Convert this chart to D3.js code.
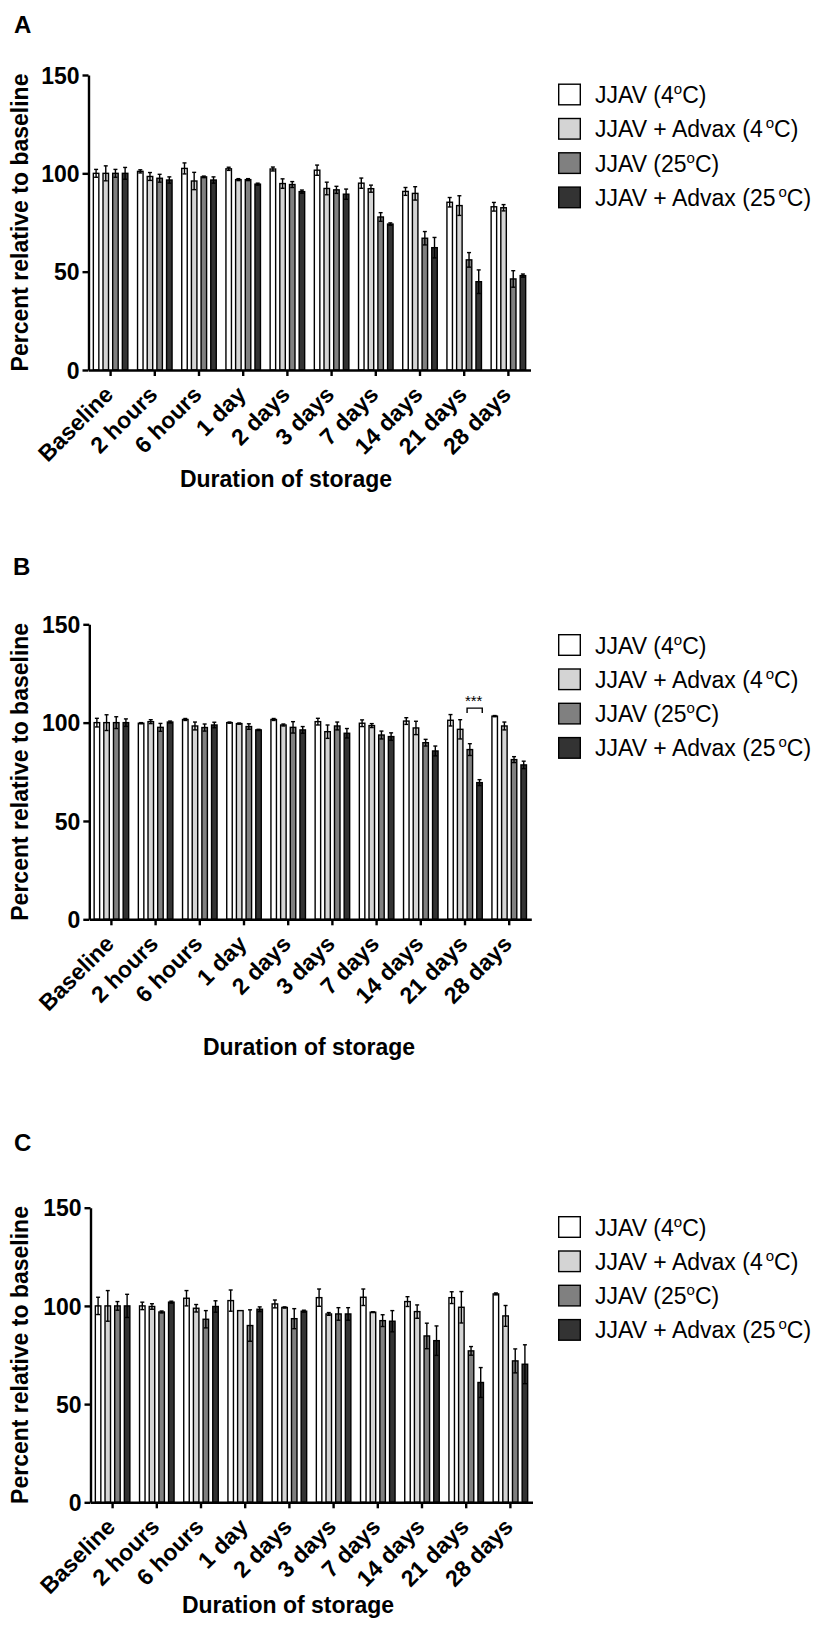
<!DOCTYPE html>
<html>
<head>
<meta charset="utf-8">
<script src="https://cdn.jsdelivr.net/npm/d3@7"></script>
<style>
  html, body { margin: 0; padding: 0; background: #fff; }
  svg { display: block; font-family: "Liberation Sans", Arial, sans-serif; }
</style>
</head>
<body>
<script>
// categories / series
const durations = ["Baseline", "2 hours", "6 hours", "1 day", "2 days", "3 days", "7 days", "14 days", "21 days", "28 days"];
const seriesNames = ["JJAV (4", "JJAV + Advax (4", "JJAV (25", "JJAV + Advax (25"];
const seriesGap = [0, 3, 0, 3]; // small gap before the degree sign, as in the original
const seriesColors = ["#ffffff", "#d4d4d4", "#808080", "#333333"];
const yTicks = [0, 50, 100, 150];

// panel A: means and SEM, one row per series
const meansA = [
  [100, 101, 102.5, 102.3, 102.2, 101.6, 95, 90.8, 85.3, 83],
  [100, 98.4, 96.1, 96.8, 94.8, 92.3, 92.2, 89.8, 83.6, 82.5],
  [100, 97.5, 98.2, 96.8, 94.3, 91.6, 77.8, 67, 56, 46.3],
  [100, 96.6, 96.6, 94.5, 90.7, 89.4, 74.2, 62.2, 44.9, 48]
];
const errA = [
  [2, 0.8, 2.8, 0.8, 1, 2.6, 2.6, 2, 2.4, 2.2],
  [3.8, 2, 4.4, 0.5, 2.4, 3.2, 1.8, 3.4, 5, 1.6],
  [2, 2, 0.4, 0.5, 1.5, 1.8, 2.2, 3.4, 3.7, 4.2],
  [3, 1.6, 1.6, 0.5, 0.8, 2.6, 0.6, 5.2, 6, 0.8]
];

// panel B
const meansB = [
  [100, 99.7, 101.6, 100, 101.6, 100.5, 99.7, 100.8, 101.2, 103.3],
  [100, 100.5, 98.3, 99.5, 98.8, 95.4, 98.5, 97.3, 96.6, 98.3],
  [100, 97.6, 97.5, 98, 97.6, 98.3, 93.7, 89.8, 86.3, 81.2],
  [100, 100.3, 98.8, 96.3, 96.3, 94.6, 92.9, 85.6, 69.5, 78.5]
];
const errB = [
  [2.2, 0.3, 0.5, 0.3, 0.5, 1.7, 1.7, 1.7, 2.9, 0.3],
  [4, 1, 2, 0.3, 0.5, 3.4, 1, 3.4, 4.9, 2],
  [3, 2, 1.8, 1.4, 2.9, 2, 2, 1.7, 3, 1.5],
  [1.9, 0.5, 1.4, 0.3, 1.7, 2.4, 1.9, 2.5, 1.5, 1.9]
];

// panel C
const meansC = [
  [100, 100, 103.9, 102.7, 101, 104.2, 104.4, 102.2, 104.2, 106.1],
  [100, 99.7, 98.8, 97.6, 99.2, 95.9, 96.8, 97.1, 99.3, 94.9],
  [100, 96.9, 93.2, 90, 93.5, 95.9, 92.5, 84.7, 77.1, 72],
  [100, 101.9, 99.7, 98.3, 97.3, 95.9, 92.2, 82.3, 61, 70.3]
];
const errC = [
  [4.4, 1.9, 3.9, 5.4, 2, 4.4, 4.2, 2.5, 3, 0.5],
  [7.8, 1.4, 1.9, 0, 0.3, 0.7, 0.2, 3.4, 8, 5.3],
  [2.2, 0.5, 4.4, 8, 5.1, 3.2, 3, 6.5, 2.2, 6.1],
  [5.9, 0.5, 2.9, 1.2, 0.5, 3.2, 5.4, 7.5, 7.6, 9.9]
];

// significance mark in panel B (21 days, JJAV 25C vs JJAV + Advax 25C)
const sigB = { category: "21 days", from: 2, to: 3, level: 107.4, label: "***" };

const W = 814, H = 1626;
const svg = d3.select("body").append("svg").attr("width", W).attr("height", H);

const panels = [
  { letter: "A", means: meansA, errs: errA, x0: 88.5, yTop: 75, yBottom: 370, letterX: 14, letterY: 33, titleX: 286, titleY: 487, legendY: 94.5 },
  { letter: "B", means: meansB, errs: errB, x0: 89.3, yTop: 624.3, yBottom: 919.3, letterX: 13, letterY: 575, titleX: 309, titleY: 1055, legendY: 645, sig: sigB },
  { letter: "C", means: meansC, errs: errC, x0: 90.5, yTop: 1207.7, yBottom: 1502.3, letterX: 14, letterY: 1151, titleX: 288, titleY: 1613, legendY: 1227 }
];

panels.forEach(p => {
  const g = svg.append("g");

  const x = d3.scaleBand().domain(durations).range([p.x0, p.x0 + 442]).padding(0);
  const xs = d3.scaleBand().domain(d3.range(4)).range([0, x.bandwidth()])
    .paddingInner(0.431).paddingOuter(0.5);
  const y = d3.scaleLinear().domain([0, 150]).range([p.yBottom, p.yTop]);

  // bars
  const bars = [];
  p.means.forEach((row, s) => row.forEach((v, i) => {
    bars.push({ s, cat: durations[i], v, e: p.errs[s][i] });
  }));

  g.selectAll("rect.bar").data(bars).join("rect")
    .attr("class", "bar")
    .attr("x", d => x(d.cat) + xs(d.s))
    .attr("width", xs.bandwidth())
    .attr("y", d => y(d.v))
    .attr("height", d => y(0) - y(d.v))
    .attr("fill", d => seriesColors[d.s])
    .attr("stroke", "#000")
    .attr("stroke-width", 1.4);

  // error bars (SEM, both directions)
  const eb = g.selectAll("g.err").data(bars.filter(d => d.e > 0)).join("g").attr("class", "err")
    .attr("stroke", "#000").attr("stroke-width", 1.4);
  const cx = d => x(d.cat) + xs(d.s) + xs.bandwidth() / 2;
  eb.append("line")
    .attr("x1", cx).attr("x2", cx)
    .attr("y1", d => y(d.v - d.e)).attr("y2", d => y(d.v + d.e));
  eb.append("line")
    .attr("x1", d => cx(d) - 2).attr("x2", d => cx(d) + 2)
    .attr("y1", d => y(d.v + d.e)).attr("y2", d => y(d.v + d.e));
  eb.append("line")
    .attr("x1", d => cx(d) - 2).attr("x2", d => cx(d) + 2)
    .attr("y1", d => y(d.v - d.e)).attr("y2", d => y(d.v - d.e));

  // axes
  const yAxis = g.append("g").attr("transform", `translate(${p.x0},0)`)
    .call(d3.axisLeft(y).tickValues(yTicks).tickSize(6).tickSizeOuter(0).tickPadding(3));
  const xAxis = g.append("g").attr("transform", `translate(0,${p.yBottom})`)
    .call(d3.axisBottom(x).tickSize(6).tickSizeOuter(0));

  [yAxis, xAxis].forEach(a => {
    a.select(".domain").attr("stroke-width", 2.4);
    a.selectAll(".tick line").attr("stroke-width", 2.4);
    a.selectAll("text").attr("font-family", null).attr("font-size", 23).attr("font-weight", "bold").attr("fill", "#000");
  });
  yAxis.selectAll("text").attr("dy", "0.36em");
  xAxis.selectAll("text")
    .attr("x", 0).attr("y", 0).attr("dy", 0)
    .attr("text-anchor", "end")
    .attr("transform", "translate(4,26) rotate(-45)");

  // axis titles
  g.append("text")
    .attr("transform", `translate(28,${(p.yTop + p.yBottom) / 2}) rotate(-90)`)
    .attr("text-anchor", "middle")
    .attr("font-size", 23).attr("font-weight", "bold")
    .text("Percent relative to baseline");
  g.append("text")
    .attr("x", p.titleX).attr("y", p.titleY)
    .attr("text-anchor", "middle")
    .attr("font-size", 23).attr("font-weight", "bold")
    .text("Duration of storage");

  // panel letter
  g.append("text")
    .attr("x", p.letterX).attr("y", p.letterY)
    .attr("font-size", 24).attr("font-weight", "bold")
    .text(p.letter);

  // legend
  const leg = g.append("g").attr("transform", `translate(558,${p.legendY})`);
  const item = leg.selectAll("g").data(seriesNames).join("g")
    .attr("transform", (d, i) => `translate(0,${i * 34.3})`);
  item.append("rect")
    .attr("x", 0.7).attr("y", -10.3).attr("width", 21.6).attr("height", 20.6)
    .attr("fill", (d, i) => seriesColors[i])
    .attr("stroke", "#000").attr("stroke-width", 1.4);
  const lt = item.append("text")
    .attr("x", 37).attr("y", 8.5)
    .attr("font-size", 23);
  lt.append("tspan").text(d => d);
  lt.append("tspan").attr("font-size", 15).attr("dx", (d, i) => seriesGap[i]).attr("dy", -9).text("o");
  lt.append("tspan").attr("dy", 9).text("C)");

  // significance bracket
  if (p.sig) {
    const s = p.sig;
    const xl = x(s.category) + xs(s.from);
    const xr = x(s.category) + xs(s.to) + xs.bandwidth();
    const yb = y(s.level);
    g.append("path")
      .attr("d", `M${xl},${yb + 5}V${yb}H${xr}V${yb + 5}`)
      .attr("fill", "none").attr("stroke", "#000").attr("stroke-width", 1.4);
    g.append("text")
      .attr("x", (xl + xr) / 2 - 1).attr("y", yb - 2)
      .attr("text-anchor", "middle").attr("font-size", 15)
      .text(s.label);
  }
});
</script>
</body>
</html>
